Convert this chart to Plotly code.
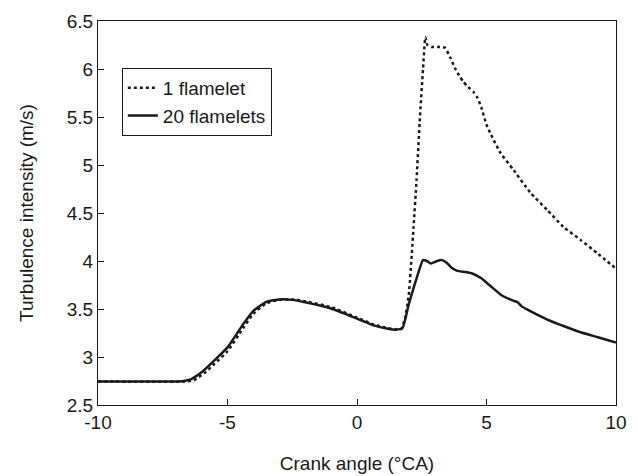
import plotly.graph_objects as go

# 20 flamelets (solid)
x_20 = [-10, -7.0, -6.7, -6.4, -6.0, -5.6, -5.0, -4.4, -4.0, -3.5, -3.0, -2.5, -2.0, -1.0, 0.0,
        0.64, 1.2, 1.5, 1.75, 2.0, 2.3, 2.55, 2.7, 2.85, 3.05, 3.25, 3.45, 3.65, 3.85, 4.2,
        4.45, 4.8, 5.15, 5.6, 6.0, 6.2, 6.35, 6.6, 7.35, 8.0, 8.6, 9.3, 10]
y_20 = [2.745, 2.745, 2.75, 2.77, 2.84, 2.94, 3.10, 3.34, 3.48, 3.575, 3.60, 3.595, 3.57, 3.505, 3.40,
        3.33, 3.295, 3.285, 3.30, 3.55, 3.82, 4.01, 4.0, 3.975, 3.995, 4.01, 3.985, 3.93, 3.90, 3.885,
        3.87, 3.82, 3.74, 3.64, 3.59, 3.57, 3.53, 3.49, 3.39, 3.32, 3.26, 3.205, 3.15]

# 1 flamelet (dotted)
x_1 = [-10, -6.6, -6.3, -5.9, -5.5, -5.0, -4.4, -4.0, -3.5, -3.0, -2.5, -2.0, -1.0, 0.0, 0.64,
       1.2, 1.5, 1.7, 1.85, 2.0, 2.18, 2.3, 2.42, 2.55, 2.64, 2.72, 2.9, 3.2, 3.4, 3.6, 3.8,
       3.95, 4.1, 4.3, 4.5, 4.65, 4.8, 5.0, 5.15, 5.54, 6.04, 6.7, 7.35, 7.97, 8.63, 9.28, 10]
y_1 = [2.745, 2.745, 2.76, 2.83, 2.93, 3.06, 3.30, 3.45, 3.56, 3.595, 3.60, 3.58, 3.52, 3.41, 3.34,
       3.30, 3.29, 3.29, 3.40, 3.65, 4.34, 4.85, 5.45, 6.0, 6.33, 6.25, 6.23, 6.23, 6.22, 6.12, 6.0,
       5.93, 5.87, 5.81, 5.76, 5.70, 5.60, 5.42, 5.33, 5.125, 4.95, 4.71, 4.53, 4.355, 4.22, 4.08, 3.92]

x_ticks = [-10, -5, 0, 5, 10]
y_ticks = [2.5, 3, 3.5, 4, 4.5, 5, 5.5, 6, 6.5]

ink = "#1a1a1a"
fam = "Liberation Sans, Arial, sans-serif"

fig = go.Figure()
fig.add_trace(go.Scatter(x=x_1, y=y_1, mode="lines", name="1 flamelet",
                         line=dict(color=ink, width=2.5, dash="dot", shape="spline", smoothing=0.5)))
fig.add_trace(go.Scatter(x=x_20, y=y_20, mode="lines", name="20 flamelets",
                         line=dict(color=ink, width=2.5, shape="spline", smoothing=0.5)))

fig.update_layout(
    width=638, height=476,
    margin=dict(l=90, r=30, t=13, b=79, autoexpand=False),
    paper_bgcolor="white", plot_bgcolor="white",
    font=dict(family=fam, size=19, color=ink),
    showlegend=True,
    legend=dict(x=0.046, y=0.878, xanchor="left", yanchor="top",
                bordercolor=ink, borderwidth=1, bgcolor="white",
                font=dict(family=fam, size=19, color=ink),
                tracegroupgap=0),
)
fig.update_xaxes(range=[-10, 10], tickvals=x_ticks, ticktext=[str(v) for v in x_ticks],
                 ticks="inside", ticklen=6, tickcolor=ink, tickfont=dict(size=19),
                 showline=True, linecolor=ink, linewidth=1.2, mirror=True,
                 showgrid=False, zeroline=False,
                 title=dict(text="Crank angle (°CA)", standoff=24, font=dict(size=19)))
fig.update_yaxes(range=[2.5, 6.5], tickvals=y_ticks, ticktext=[f"{v:g}" for v in y_ticks],
                 ticks="inside", ticklen=6, tickcolor=ink, tickfont=dict(size=19),
                 showline=True, linecolor=ink, linewidth=1.2, mirror=True,
                 showgrid=False, zeroline=False,
                 title=dict(text="Turbulence intensity (m/s)", standoff=28, font=dict(size=19)))

fig.write_html("out.html")
